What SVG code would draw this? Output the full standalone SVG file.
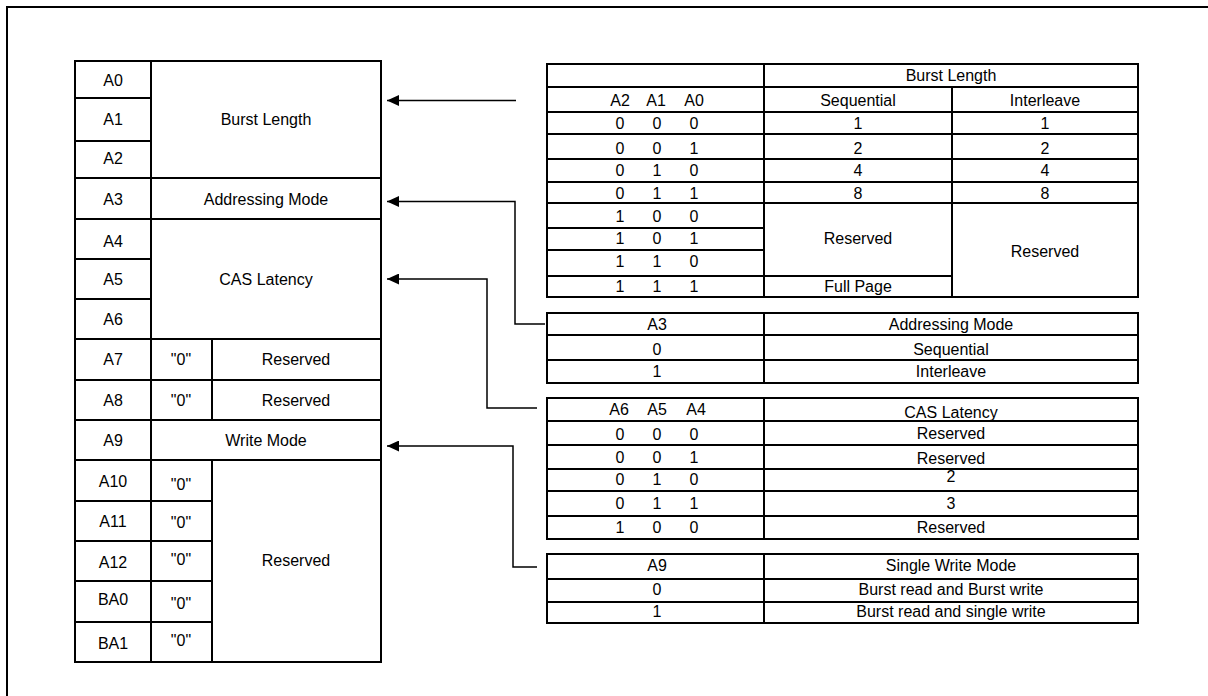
<svg xmlns="http://www.w3.org/2000/svg" width="1208" height="696" viewBox="0 0 1208 696">
<style>
  .t{font-family:"Liberation Sans",Arial,sans-serif;font-size:16px;fill:#000;text-anchor:middle}
  .b{fill:none;stroke:#000;stroke-width:2}
  .l{stroke:#000;stroke-width:2;fill:none}
  .c{stroke:#000;stroke-width:1.5;fill:none}
</style>
<defs>
  <marker id="ah" viewBox="0 0 12 11" refX="12" refY="5.5" markerWidth="12" markerHeight="11" markerUnits="userSpaceOnUse" orient="auto">
    <path d="M0,0 L12,5.5 L0,11 Z" fill="#000"/>
  </marker>
</defs>
<rect width="1208" height="696" fill="#fff"/>
<path class="l" d="M7,710 V7 H1220" stroke-width="2.5"/>

<g id="register">
  <rect class="b" x="75" y="61" width="306" height="601"/>
  <path class="l" d="M151,61 V662 M212,339 V420 M212,460 V662
    M75,98 H151 M75,141 H151 M75,178 H381 M75,219 H381 M75,259 H151 M75,299 H151
    M75,339 H381 M75,380 H381 M75,420 H381 M75,460 H381
    M75,501 H212 M75,541 H212 M75,581 H212 M75,622 H212"/>
  <text class="t" x="113" y="86">A0</text>
  <text class="t" x="113" y="125">A1</text>
  <text class="t" x="113" y="164">A2</text>
  <text class="t" x="113" y="205">A3</text>
  <text class="t" x="113" y="247">A4</text>
  <text class="t" x="113" y="285">A5</text>
  <text class="t" x="113" y="325">A6</text>
  <text class="t" x="113" y="365">A7</text>
  <text class="t" x="113" y="406">A8</text>
  <text class="t" x="113" y="446">A9</text>
  <text class="t" x="113" y="487">A10</text>
  <text class="t" x="113" y="527">A11</text>
  <text class="t" x="113" y="568">A12</text>
  <text class="t" x="113" y="605">BA0</text>
  <text class="t" x="113" y="649">BA1</text>
  <text class="t" x="266" y="125">Burst Length</text>
  <text class="t" x="266" y="205">Addressing Mode</text>
  <text class="t" x="266" y="285">CAS Latency</text>
  <text class="t" x="181" y="365">"0"</text>
  <text class="t" x="296" y="365">Reserved</text>
  <text class="t" x="181" y="406">"0"</text>
  <text class="t" x="296" y="406">Reserved</text>
  <text class="t" x="266" y="446">Write Mode</text>
  <text class="t" x="181" y="490">"0"</text>
  <text class="t" x="181" y="528">"0"</text>
  <text class="t" x="181" y="565">"0"</text>
  <text class="t" x="181" y="609">"0"</text>
  <text class="t" x="181" y="646">"0"</text>
  <text class="t" x="296" y="566">Reserved</text>
</g>

<g id="burst-length-table">
  <rect class="b" x="547" y="64" width="591" height="233"/>
  <path class="l" d="M764,64 V297 M952,87 V297
    M547,87 H1138 M547,112 H1138 M547,134 H1138 M547,159 H1138 M547,182 H1138 M547,203 H1138
    M547,228 H764 M547,250 H764 M547,276 H952"/>
  <text class="t" x="951" y="81">Burst Length</text>
  <text class="t" x="620" y="106">A2</text>
  <text class="t" x="656" y="106">A1</text>
  <text class="t" x="694" y="106">A0</text>
  <text class="t" x="858" y="106">Sequential</text>
  <text class="t" x="1045" y="106">Interleave</text>
  <text class="t" x="620" y="129">0</text><text class="t" x="657" y="129">0</text><text class="t" x="694" y="129">0</text>
  <text class="t" x="620" y="154">0</text><text class="t" x="657" y="154">0</text><text class="t" x="694" y="154">1</text>
  <text class="t" x="620" y="176">0</text><text class="t" x="657" y="176">1</text><text class="t" x="694" y="176">0</text>
  <text class="t" x="620" y="199">0</text><text class="t" x="657" y="199">1</text><text class="t" x="694" y="199">1</text>
  <text class="t" x="620" y="222">1</text><text class="t" x="657" y="222">0</text><text class="t" x="694" y="222">0</text>
  <text class="t" x="620" y="244">1</text><text class="t" x="657" y="244">0</text><text class="t" x="694" y="244">1</text>
  <text class="t" x="620" y="267">1</text><text class="t" x="657" y="267">1</text><text class="t" x="694" y="267">0</text>
  <text class="t" x="620" y="292">1</text><text class="t" x="657" y="292">1</text><text class="t" x="694" y="292">1</text>
  <text class="t" x="858" y="129">1</text><text class="t" x="1045" y="129">1</text>
  <text class="t" x="858" y="154">2</text><text class="t" x="1045" y="154">2</text>
  <text class="t" x="858" y="176">4</text><text class="t" x="1045" y="176">4</text>
  <text class="t" x="858" y="199">8</text><text class="t" x="1045" y="199">8</text>
  <text class="t" x="858" y="244">Reserved</text>
  <text class="t" x="1045" y="257">Reserved</text>
  <text class="t" x="858" y="292">Full Page</text>
</g>

<g id="addressing-mode-table">
  <rect class="b" x="547" y="313" width="591" height="70"/>
  <path class="l" d="M764,313 V383 M547,335 H1138 M547,360 H1138"/>
  <text class="t" x="657" y="330">A3</text>
  <text class="t" x="657" y="355">0</text>
  <text class="t" x="657" y="377">1</text>
  <text class="t" x="951" y="330">Addressing Mode</text>
  <text class="t" x="951" y="355">Sequential</text>
  <text class="t" x="951" y="377">Interleave</text>
</g>

<g id="cas-latency-table">
  <rect class="b" x="547" y="398" width="591" height="141"/>
  <path class="l" d="M764,398 V539 M547,421 H1138 M547,445 H1138 M547,469 H1138 M547,491 H1138 M547,516 H1138"/>
  <text class="t" x="619" y="415">A6</text>
  <text class="t" x="657" y="415">A5</text>
  <text class="t" x="696" y="415">A4</text>
  <text class="t" x="620" y="440">0</text><text class="t" x="657" y="440">0</text><text class="t" x="694" y="440">0</text>
  <text class="t" x="620" y="463">0</text><text class="t" x="657" y="463">0</text><text class="t" x="694" y="463">1</text>
  <text class="t" x="620" y="485">0</text><text class="t" x="657" y="485">1</text><text class="t" x="694" y="485">0</text>
  <text class="t" x="620" y="509">0</text><text class="t" x="657" y="509">1</text><text class="t" x="694" y="509">1</text>
  <text class="t" x="620" y="533">1</text><text class="t" x="657" y="533">0</text><text class="t" x="694" y="533">0</text>
  <text class="t" x="951" y="418">CAS Latency</text>
  <text class="t" x="951" y="439">Reserved</text>
  <text class="t" x="951" y="464">Reserved</text>
  <text class="t" x="951" y="482">2</text>
  <text class="t" x="951" y="509">3</text>
  <text class="t" x="951" y="533">Reserved</text>
</g>

<g id="write-mode-table">
  <rect class="b" x="547" y="554" width="591" height="69"/>
  <path class="l" d="M764,554 V623 M547,579 H1138 M547,602 H1138"/>
  <text class="t" x="657" y="571">A9</text>
  <text class="t" x="657" y="595">0</text>
  <text class="t" x="657" y="617">1</text>
  <text class="t" x="951" y="571">Single Write Mode</text>
  <text class="t" x="951" y="595">Burst read and Burst write</text>
  <text class="t" x="951" y="617">Burst read and single write</text>
</g>

<g id="connectors">
  <path class="c" d="M516,100.5 H387" marker-end="url(#ah)"/>
  <path class="c" d="M545,324 H515 V201.5 H387" marker-end="url(#ah)"/>
  <path class="c" d="M537,408 H487 V279 H387" marker-end="url(#ah)"/>
  <path class="c" d="M537,567 H513 V446 H387" marker-end="url(#ah)"/>
</g>
</svg>
